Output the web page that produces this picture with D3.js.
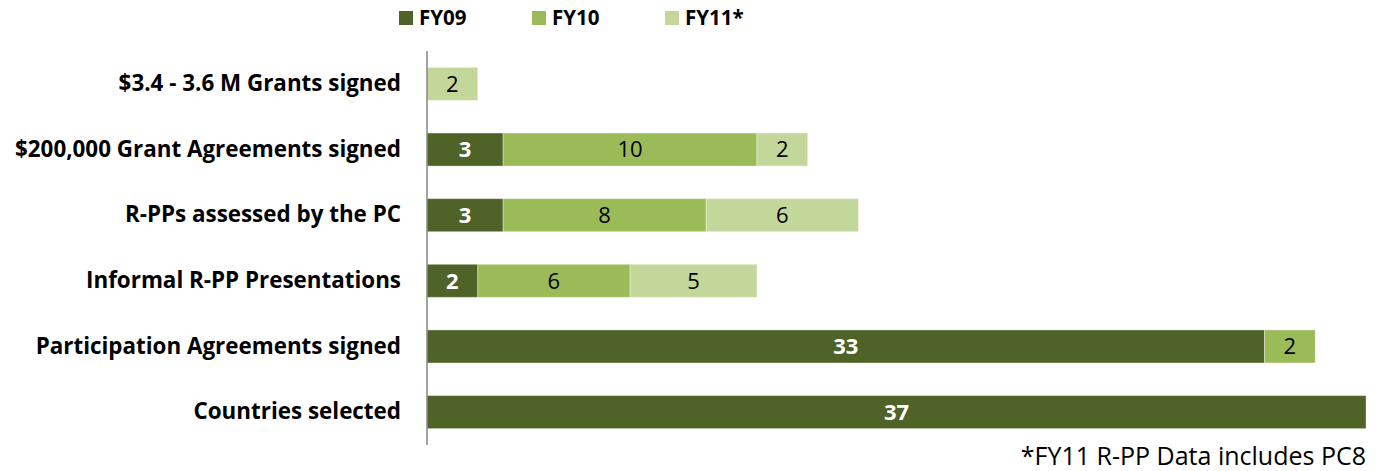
<!DOCTYPE html>
<html>
<head>
<meta charset="utf-8">
<script src="https://cdn.jsdelivr.net/npm/d3@7"></script>
<style>
  body { margin: 0; background: #fff; }
  text { font-family: "Open Sans", Lato, sans-serif; }
</style>
</head>
<body>
<div id="chart"></div>
<script>
// categorie dall'alto in basso
const categories = [
  "$3.4 - 3.6 M Grants signed",
  "$200,000 Grant Agreements signed",
  "R-PPs assessed by the PC",
  "Informal R-PP Presentations",
  "Participation Agreements signed",
  "Countries selected"
];
const seriesNames = ["FY09", "FY10", "FY11*"];
const fy09 = [0, 3, 3, 2, 33, 37];
const fy10 = [0, 10, 8, 6, 2, 0];
const fy11 = [2, 2, 6, 5, 0, 0];
const colors = ["#4F6228", "#9BBB59", "#C4D79B"];
const footnote = "*FY11 R-PP Data includes PC8";

const width = 1380, height = 471;
const svg = d3.select("#chart").append("svg")
  .attr("width", width).attr("height", height);

// tabella righe con i valori impilati
const rows = categories.map((c, i) => ({ cat: c, vals: [fy09[i], fy10[i], fy11[i]] }));
const stack = d3.stack().keys([0, 1, 2]).value((d, k) => d.vals[k]);
const layers = stack(rows);

const x = d3.scaleLinear().domain([0, 37]).range([427, 1366]);
const y = d3.scaleBand().domain(categories).range([51, 445])
  .paddingInner(0.497).paddingOuter(0.25);

// barre
layers.forEach((layer, k) => {
  const g = svg.append("g");
  layer.forEach((seg, i) => {
    const v = seg[1] - seg[0];
    if (v <= 0) return;
    g.append("rect")
      .attr("x", x(seg[0]))
      .attr("y", y(categories[i]))
      .attr("width", x(seg[1]) - x(seg[0]))
      .attr("height", y.bandwidth())
      .attr("fill", colors[k])
      .attr("stroke", "#fff")
      .attr("stroke-opacity", 0.35)
      .attr("stroke-width", 1);
    g.append("text")
      .attr("x", (x(seg[0]) + x(seg[1])) / 2)
      .attr("y", y(categories[i]) + y.bandwidth() / 2)
      .attr("dy", "0.36em")
      .attr("text-anchor", "middle")
      .style("font-size", "22px")
      .style("font-weight", k === 0 ? 700 : 400)
      .attr("fill", k === 0 ? "#fff" : "#000")
      .text(v);
  });
});

// asse verticale con etichette
const yAxis = svg.append("g")
  .attr("transform", "translate(427,0)")
  .call(d3.axisLeft(y).tickSize(0).tickPadding(26));
yAxis.select(".domain").attr("stroke", "#868686").attr("stroke-width", 1.5)
  .attr("d", `M0,${y.range()[0]}V${y.range()[1]}`);
yAxis.selectAll("text")
  .style("font-family", "'Open Sans', sans-serif")
  .style("font-size", "22.4px")
  .style("font-weight", 700)
  .attr("fill", "#000");

// legenda
const legX = [399, 532, 665];
seriesNames.forEach((n, k) => {
  svg.append("rect").attr("x", legX[k]).attr("y", 11)
    .attr("width", 14).attr("height", 14).attr("fill", colors[k]);
  svg.append("text").attr("x", legX[k] + 20).attr("y", 18).attr("dy", "0.36em")
    .style("font-size", "20.5px").style("font-weight", 700).text(n);
});

// nota in basso
svg.append("text")
  .attr("x", 1366).attr("y", 465)
  .attr("text-anchor", "end")
  .style("font-size", "25px")
  .text(footnote);
</script>
</body>
</html>
